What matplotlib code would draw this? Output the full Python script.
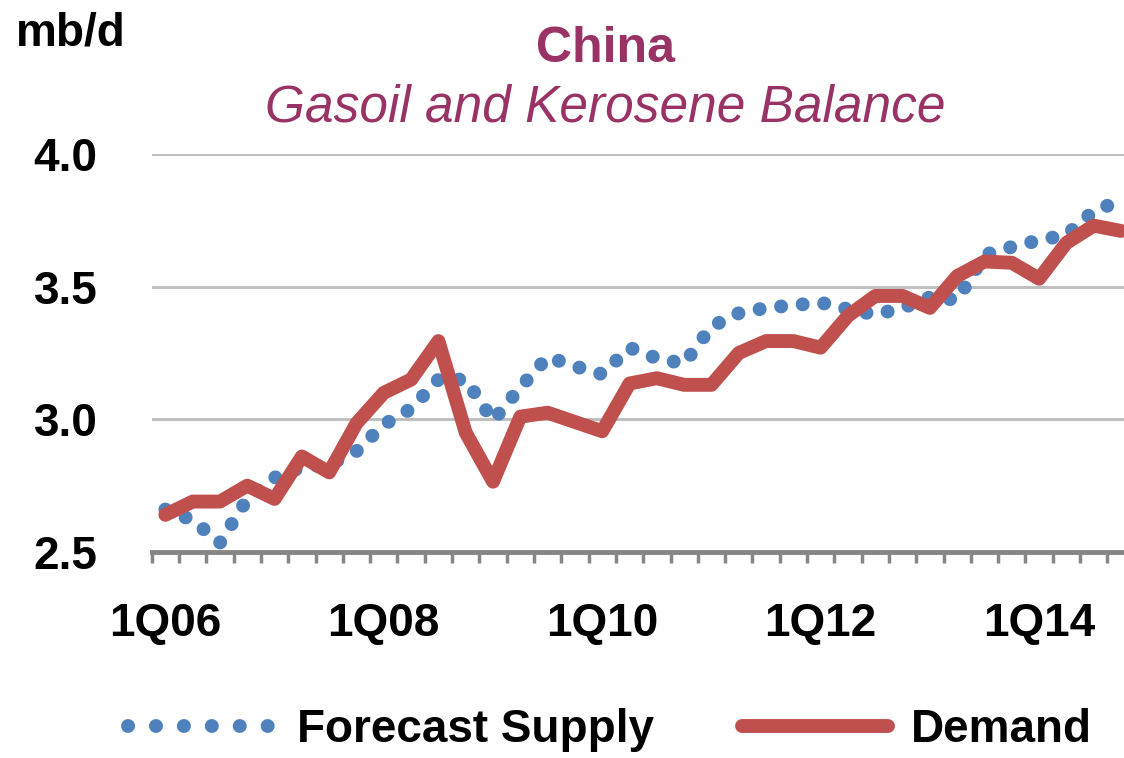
import numpy as np
import matplotlib
matplotlib.use("Agg")
import matplotlib.pyplot as plt
from matplotlib.lines import Line2D

# === Quarterly balance, mb/d ===
quarters = [f"{q}Q{y:02d}" for y in range(6, 15) for q in range(1, 5)]
tick_labels = ['1Q06', '1Q08', '1Q10', '1Q12', '1Q14']

supply = [2.66, 2.62, 2.535, 2.70, 2.78, 2.82, 2.83, 2.88, 2.98, 3.04, 3.15, 3.15,
          2.995, 3.12, 3.235, 3.20, 3.17, 3.27, 3.23, 3.21, 3.35, 3.40, 3.42, 3.43,
          3.44, 3.415, 3.395, 3.42, 3.46, 3.45, 3.62, 3.65, 3.675, 3.695, 3.785, 3.825]
demand = [2.64, 2.69, 2.69, 2.75, 2.70, 2.86, 2.80, 2.985, 3.10, 3.15, 3.295, 2.95,
          2.765, 3.01, 3.025, 2.99, 2.955, 3.135, 3.155, 3.13, 3.13, 3.25, 3.295, 3.295,
          3.27, 3.39, 3.465, 3.465, 3.42, 3.54, 3.595, 3.59, 3.53, 3.665, 3.73, 3.71]

BLUE = '#4F81BD'
RED = '#C0504D'
TITLE = '#993366'
GRID = '#BFBFBF'
AXIS = '#868686'

plt.rcParams['font.family'] = ['Liberation Sans', 'DejaVu Sans']

W, H = 1124, 758
fig = plt.figure(figsize=(W / 100, H / 100), dpi=100)
ax = fig.add_axes([151.7 / W, (H - 552) / H, 983 / W, 398 / H])

x = np.arange(len(quarters))
dots = (0, (0.01, 1.55))
ax.plot(x, supply, color=BLUE, lw=10, linestyle=dots, dash_capstyle='round',
        label='Forecast Supply', clip_on=False)
ax.plot(x, demand, color=RED, lw=10, solid_capstyle='round', solid_joinstyle='round',
        label='Demand', clip_on=False)

ax.set_xlim(-0.5, len(quarters) - 0.5)
ax.set_ylim(2.5, 4.0)

# category labels every two years, tick marks between quarters
ax.set_xticks([quarters.index(t) for t in tick_labels])
ax.set_xticklabels(tick_labels)
ax.set_xticks(np.arange(-0.5, len(quarters)), minor=True)
ax.tick_params(axis='x', which='major', length=0, pad=36, labelsize=33)
ax.tick_params(axis='x', which='minor', direction='out', length=8, width=2.5, color=AXIS)
for lbl in ax.get_xticklabels():
    lbl.set_fontweight('bold')

ax.set_yticks([2.5, 3.0, 3.5, 4.0])
ax.set_yticklabels(['2.5', '3.0', '3.5', '4.0'])
ax.tick_params(axis='y', length=0, pad=39, labelsize=33)
for lbl in ax.get_yticklabels():
    lbl.set_fontweight('bold')
ax.yaxis.grid(True, color=GRID, lw=2.2)
ax.set_axisbelow(True)

for side in ['left', 'right', 'top']:
    ax.spines[side].set_visible(False)
ax.spines['bottom'].set_color(AXIS)
ax.spines['bottom'].set_linewidth(3.5)

fig.text(16 / W, 1 - 46 / H, 'mb/d', fontsize=33, fontweight='bold', va='baseline')
fig.text(605 / W, 1 - 62 / H, 'China', fontsize=36, fontweight='bold', color=TITLE,
         ha='center', va='baseline')
fig.text(605 / W, 1 - 122 / H, 'Gasoil and Kerosene Balance', fontsize=37,
         style='italic', color=TITLE, ha='center', va='baseline')

handles = [Line2D([], [], color=BLUE, lw=10, linestyle=(0, (0.01, 2.0)), dash_capstyle='round'),
           Line2D([], [], color=RED, lw=10, solid_capstyle='round')]
leg = fig.legend(handles, ['Forecast Supply', 'Demand'], loc='center',
                 bbox_to_anchor=(610 / W, 1 - 730 / H), ncol=2, frameon=False,
                 prop={'size': 33, 'weight': 'bold'}, handlelength=3.2,
                 handletextpad=0.5, columnspacing=1.9)

fig.savefig('out.png', dpi=100)
